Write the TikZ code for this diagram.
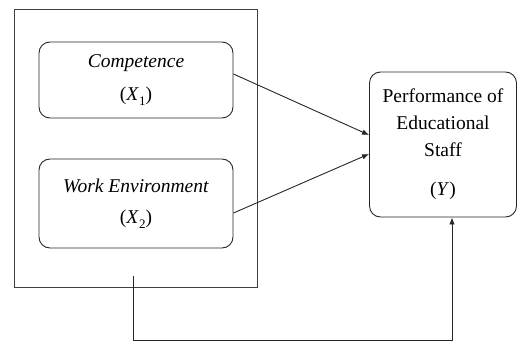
\documentclass[tikz,border=0pt]{standalone}
\usepackage{fontspec}
\setmainfont{Liberation Serif}
\usetikzlibrary{arrows.meta}
\newcommand{\lowsub}[1]{\raisebox{-0.25em}{\fontsize{13}{13}\selectfont #1}}
\begin{document}
\begin{tikzpicture}[x=1pt,y=-1pt,
  line width=0.9pt,
  every node/.style={font=\fontsize{19.5}{27}\selectfont},
  rbox/.style={draw=black!85, rounded corners=11pt, inner sep=0pt, align=center},
  outerbox/.style={draw=black!75, inner sep=0pt},
  conn/.style={draw=black!85, -{Latex[length=7pt,width=5.5pt]}}]
\useasboundingbox (0,0) rectangle (518,342);
\node[outerbox, minimum width=243pt, minimum height=278pt] (outer) at (135.5,148) {};
\node[rbox, minimum width=194pt, minimum height=76pt] (comp) at (136,80)
  {\textit{Competence}\\[6pt](\textit{X}\lowsub{1})};
\node[rbox, minimum width=194pt, minimum height=89pt] (work) at (136,203.5)
  {\textit{Work Environment}\\[4pt](\textit{X}\lowsub{2})};
\node[rbox, minimum width=147pt, minimum height=145pt] (y) at (443,144.5)
  {Performance of\\Educational\\Staff\\[12pt](\textit{Y})};
\coordinate (start) at (133,276);
\coordinate (c1) at (133,340);
\coordinate (c2) at (452,340);
\draw[conn] ([yshift=6pt]comp.east) -- ([yshift=9.5pt]y.west);
\draw[conn] ([yshift=-9.5pt]work.east) -- ([yshift=-9.5pt]y.west);
\draw[conn] (start) -- (c1) -- (c2) -- ([xshift=9pt]y.south);
\end{tikzpicture}
\end{document}
